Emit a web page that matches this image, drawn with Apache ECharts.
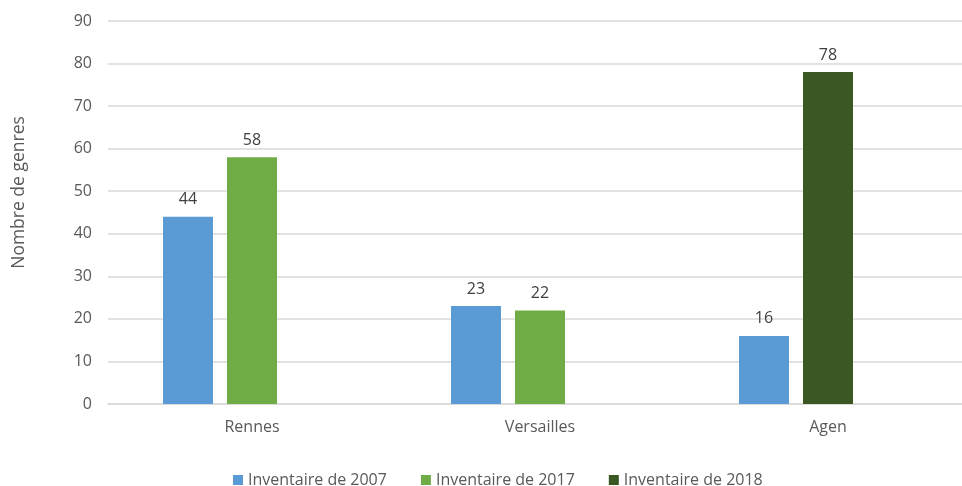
<!DOCTYPE html>
<html>
<head>
<meta charset="utf-8">
<script src="https://cdn.jsdelivr.net/npm/echarts@6/dist/echarts.min.js"></script>
<style>html,body{margin:0;padding:0;background:#fff;}#c{width:962px;height:486px;}</style>
</head>
<body>
<div id="c"></div>
<script>
const categories = ['Rennes', 'Versailles', 'Agen'];
const seriesNames = ['Inventaire de 2007', 'Inventaire de 2017', 'Inventaire de 2018'];
const values2007 = [44, 23, 16];
const values2017 = [58, 22, null];
const values2018 = [null, null, 78];
const spacer = [null, null, null];
const yTicks = { min: 0, max: 90, interval: 10 };

const font = 'Open Sans';
const chart = echarts.init(document.getElementById('c'));
const label = { show: true, position: 'top', color: '#404040', fontSize: 16, fontFamily: font, distance: 9 };
chart.setOption({
  animation: false,
  textStyle: { fontFamily: font },
  grid: { left: 108, width: 864, top: 21, bottom: 82, containLabel: false, outerBoundsMode: 'none' },
  legend: {
    data: seriesNames,
    top: 467,
    left: 228,
    itemWidth: 10, itemHeight: 10, itemGap: 34,
    icon: 'rect',
    textStyle: { color: '#595959', fontSize: 16, fontFamily: font }
  },
  xAxis: {
    type: 'category',
    data: categories,
    axisLine: { lineStyle: { color: '#d9d9d9', width: 1.5 } },
    axisTick: { show: false },
    axisLabel: { color: '#595959', fontSize: 16, fontFamily: font, margin: 15 }
  },
  yAxis: {
    type: 'value',
    min: yTicks.min, max: yTicks.max, interval: yTicks.interval,
    name: 'Nombre de genres',
    nameLocation: 'middle',
    nameGap: 80,
    nameTextStyle: { color: '#595959', fontSize: 17.5, fontFamily: font, padding: [0, 0, 0, 40] },
    axisLine: { show: false },
    axisTick: { show: false },
    axisLabel: { color: '#595959', fontSize: 16, fontFamily: font, margin: 16 },
    splitLine: { lineStyle: { color: '#d9d9d9', width: 1.5 } }
  },
  series: [
    { name: seriesNames[0], type: 'bar', data: values2007, barWidth: 50, barGap: '28%', barCategoryGap: '38%',
      itemStyle: { color: '#5b9bd5' }, label },
    { name: seriesNames[1], type: 'bar', stack: 's', data: values2017, barWidth: 50,
      itemStyle: { color: '#70ad47' }, label },
    { name: seriesNames[2], type: 'bar', stack: 's', data: values2018, barWidth: 50,
      itemStyle: { color: '#3a5724' }, label },
    { name: 'spacer', type: 'bar', data: spacer, barWidth: 50, silent: true }
  ]
});
</script>
</body>
</html>
